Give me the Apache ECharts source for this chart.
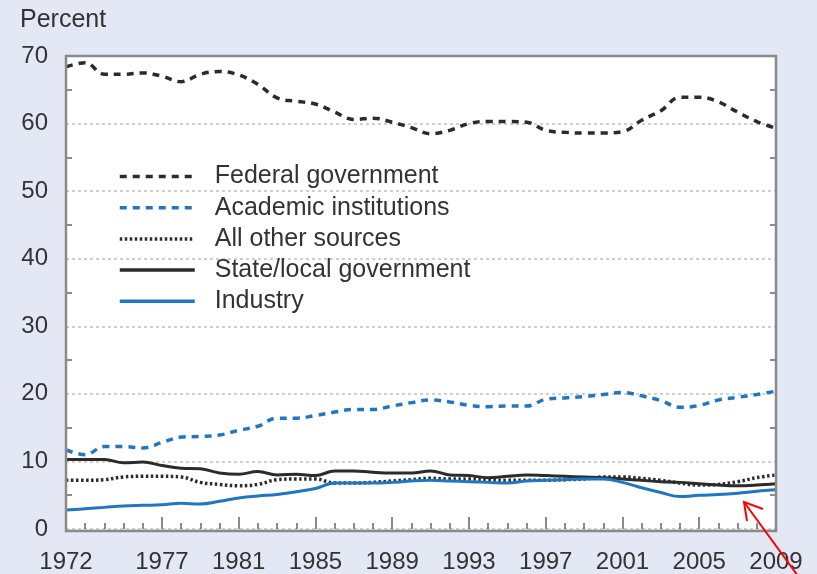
<!DOCTYPE html>
<html>
<head>
<meta charset="utf-8">
<script src="https://cdn.jsdelivr.net/npm/echarts@6/dist/echarts.min.js"></script>
<style>
html,body{margin:0;padding:0;background:#e4e8f5;}
#chart{width:817px;height:574px;}
</style>
</head>
<body>
<div id="chart"></div>
<script>
const years = ['1972','1973','1974','1975','1976','1977','1978','1979','1980','1981',
  '1982','1983','1984','1985','1986','1987','1988','1989','1990','1991',
  '1992','1993','1994','1995','1996','1997','1998','1999','2000','2001',
  '2002','2003','2004','2005','2006','2007','2008','2009'];
const labelYears = ['1972','1977','1981','1985','1989','1993','1997','2001','2005','2009'];

const federal = [68.4,69.0,67.3,67.3,67.5,67.0,66.2,67.3,67.7,67.2,
  65.8,63.8,63.3,62.9,61.7,60.6,60.8,60.2,59.4,58.5,
  59.0,60.0,60.3,60.3,60.2,59.0,58.7,58.6,58.6,58.8,
  60.5,61.9,63.9,63.9,63.2,61.7,60.3,59.3];
const academic = [11.7,11.0,12.2,12.2,12.0,12.8,13.6,13.7,13.9,14.6,
  15.2,16.4,16.4,16.8,17.3,17.7,17.7,18.2,18.7,19.1,
  18.8,18.3,18.1,18.2,18.2,19.2,19.4,19.6,19.9,20.2,
  19.7,19.0,18.0,18.3,19.1,19.5,19.9,20.4];
const allOther = [7.2,7.2,7.3,7.7,7.8,7.8,7.7,6.9,6.6,6.4,
  6.6,7.3,7.4,7.4,6.8,6.8,6.9,7.1,7.3,7.5,
  7.4,7.4,7.3,7.2,7.2,7.2,7.3,7.4,7.7,7.7,
  7.5,7.2,6.8,6.5,6.6,7.0,7.6,8.0];
const stateLocal = [10.3,10.3,10.3,9.8,9.9,9.4,9.0,8.9,8.3,8.1,
  8.5,8.0,8.1,7.9,8.6,8.6,8.4,8.3,8.3,8.6,
  8.0,7.9,7.6,7.8,8.0,7.9,7.8,7.7,7.6,7.4,
  7.2,7.0,6.9,6.7,6.5,6.4,6.5,6.7];
const industry = [2.8,3.0,3.2,3.4,3.5,3.6,3.8,3.7,4.1,4.6,
  4.9,5.1,5.5,6.0,6.8,6.8,6.8,6.9,7.1,7.2,
  7.1,7.0,6.9,6.8,7.1,7.2,7.3,7.4,7.4,6.9,
  6.1,5.4,4.8,5.0,5.1,5.3,5.6,5.8];

const yTicks = {min: 0, max: 70, interval: 10};

const FONT = '"Liberation Sans", Arial, sans-serif';
const TXT = '#333333';
const BLUE = '#1f77c4';
const DARK = '#2b2b2b';

const G = {left: 66, right: 41, top: 56, bottom: 43, w: 817, h: 574};

const chart = echarts.init(document.getElementById('chart'), null, {renderer: 'canvas'});

const yBase = {
  type: 'value', min: yTicks.min, max: yTicks.max, interval: yTicks.interval,
  axisLine: {show: false},
  axisTick: {show: false, inside: true},
  minorTick: {show: true, splitNumber: 2, length: 6, lineStyle: {color: '#666', width: 1.5}},
  minorSplitLine: {show: false}
};

const option = {
  backgroundColor: '#e4e8f5',
  animation: false,
  title: {
    text: 'Percent', left: 15, top: 3,
    textStyle: {fontFamily: FONT, fontSize: 25, fontWeight: 'normal', color: TXT}
  },
  grid: {
    left: G.left, right: G.right, top: G.top, bottom: G.bottom,
    show: true, backgroundColor: '#ffffff', borderWidth: 0
  },
  legend: {
    orient: 'vertical', left: 118, top: 164, padding: 0,
    itemWidth: 75, itemHeight: 14, itemGap: 6.2,
    itemStyle: {opacity: 0, borderWidth: 0},
    lineStyle: {width: 3.5},
    textStyle: {fontFamily: FONT, fontSize: 25, color: TXT, lineHeight: 25, padding: [0, 0, 0, 15]},
    data: ['Federal government', 'Academic institutions', 'All other sources', 'State/local government', 'Industry']
  },
  xAxis: [
    {
      type: 'category', data: years, boundaryGap: false, position: 'bottom',
      axisLine: {show: false},
      axisTick: {show: true, inside: true, interval: 0, length: 6, lineStyle: {color: '#666', width: 1.5}},
      axisLabel: {
        interval: (idx, val) => labelYears.includes(val),
        fontFamily: FONT, fontSize: 24, color: TXT, margin: 21
      },
      splitLine: {show: false}
    },
    {
      type: 'category', data: years, boundaryGap: false, position: 'bottom',
      axisLine: {show: false},
      axisTick: {show: true, inside: true, length: 12,
        interval: (idx, val) => labelYears.includes(val),
        lineStyle: {color: '#666', width: 1.5}},
      axisLabel: {show: false},
      splitLine: {show: false}
    }
  ],
  yAxis: [
    Object.assign({}, yBase, {
      position: 'left',
      axisLabel: {fontFamily: FONT, fontSize: 24, color: TXT, margin: 18},
      splitLine: {show: true, lineStyle: {color: '#cfcfcf', width: 2, type: [3, 3]}}
    }),
    Object.assign({}, yBase, {
      position: 'right',
      axisLabel: {show: false},
      splitLine: {show: false}
    })
  ],
  series: [
    {name: 'Federal government', type: 'line', data: federal, smooth: 0.4, symbol: 'none', showSymbol: false,
      lineStyle: {color: DARK, width: 3.5, type: [7, 6]}, itemStyle: {color: DARK}},
    {name: 'Academic institutions', type: 'line', data: academic, smooth: 0.4, symbol: 'none', showSymbol: false,
      lineStyle: {color: BLUE, width: 3.5, type: [7, 6]}, itemStyle: {color: BLUE}},
    {name: 'All other sources', type: 'line', data: allOther, smooth: 0.4, symbol: 'none', showSymbol: false,
      lineStyle: {color: DARK, width: 3.5, type: [2.5, 2.5]}, itemStyle: {color: DARK}},
    {name: 'State/local government', type: 'line', data: stateLocal, smooth: 0.4, symbol: 'none', showSymbol: false,
      lineStyle: {color: DARK, width: 3}, itemStyle: {color: DARK}},
    {name: 'Industry', type: 'line', data: industry, smooth: 0.4, symbol: 'none', showSymbol: false,
      lineStyle: {color: BLUE, width: 3}, itemStyle: {color: BLUE}}
  ],
  graphic: [
    {type: 'rect', z: 90, silent: true,
      shape: {x: G.left, y: G.top, width: G.w - G.left - G.right, height: G.h - G.top - G.bottom},
      style: {fill: null, stroke: '#8a8a8a', lineWidth: 2.5}},
    {type: 'line', shape: {x1: 798, y1: 576, x2: 744, y2: 502}, style: {stroke: '#ff0000', lineWidth: 2}, z: 100},
    {type: 'polyline', shape: {points: [[763, 509], [744, 502], [747, 521]]}, style: {stroke: '#ff0000', lineWidth: 2, fill: null}, z: 100}
  ]
};

chart.setOption(option);
</script>
</body>
</html>
